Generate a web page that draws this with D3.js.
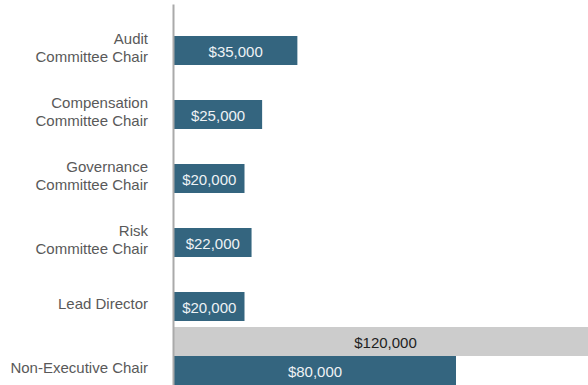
<!DOCTYPE html>
<html>
<head>
<meta charset="utf-8">
<script src="https://cdn.jsdelivr.net/npm/d3@7"></script>
<style>
  html, body { margin: 0; padding: 0; background: #fff; }
  svg { display: block; font-family: "Liberation Sans", Arial, sans-serif; }
</style>
</head>
<body>
<svg id="chart" width="588" height="385"></svg>
<script>
// Board role retainers
const roles = [
  ["Audit", "Committee Chair"],
  ["Compensation", "Committee Chair"],
  ["Governance", "Committee Chair"],
  ["Risk", "Committee Chair"],
  ["Lead Director"],
  ["Non-Executive Chair"]
];
const roleKeys = roles.map(r => r.join(" "));
const totalRetainer = [null, null, null, null, null, 120000]; // grey bars
const roleRetainer = [35000, 25000, 20000, 22000, 20000, 80000]; // blue bars
const seriesKeys = ["total", "role"];
const xDomain = [0, 120000];

const svg = d3.select("#chart");
const fmt = v => "$" + d3.format(",")(v);

const x = d3.scaleLinear().domain(xDomain).range([174, 597]);
const y = d3.scaleBand().domain(roleKeys).range([7, 385]).paddingInner(6 / 64).paddingOuter(0);
const ySub = d3.scaleBand().domain(seriesKeys).range([0, y.bandwidth()]);

const colors = { total: "#cccccc", role: "#34657f" };
const textColors = { total: "#222222", role: "#eef2f5" };

const rows = roleKeys.map((k, i) => ({
  key: k, lines: roles[i],
  values: [
    { series: "total", value: totalRetainer[i] },
    { series: "role", value: roleRetainer[i] }
  ].filter(d => d.value != null)
}));

const g = svg.append("g");
const rowG = g.selectAll("g.row").data(rows).join("g")
  .attr("class", "row")
  .attr("transform", d => `translate(0,${y(d.key)})`);

rowG.selectAll("rect").data(d => d.values).join("rect")
  .attr("x", x(0))
  .attr("y", d => ySub(d.series))
  .attr("width", d => x(d.value) - x(0))
  .attr("height", ySub.bandwidth())
  .attr("fill", d => colors[d.series]);

rowG.selectAll("text.val").data(d => d.values).join("text")
  .attr("class", "val")
  .attr("x", d => (x(0) + x(d.value)) / 2)
  .attr("y", d => ySub(d.series) + ySub.bandwidth() / 2 + 6.5)
  .attr("text-anchor", "middle")
  .attr("font-size", 15)
  .attr("fill", d => textColors[d.series])
  .text(d => fmt(d.value));

// Category labels, aligned to the blue bar of each row
const labels = rowG.append("text")
  .attr("text-anchor", "end")
  .attr("font-size", 15)
  .attr("fill", "#595959");
labels.each(function(d) {
  const cy = ySub("role") + ySub.bandwidth() / 2;
  const t = d3.select(this);
  if (d.lines.length === 1) {
    t.append("tspan").attr("x", 148).attr("y", cy + 2).text(d.lines[0]);
  } else {
    t.append("tspan").attr("x", 148).attr("y", cy - 6.5).text(d.lines[0]);
    t.append("tspan").attr("x", 148).attr("y", cy + 11.5).text(d.lines[1]);
  }
});

// Baseline axis
const axis = d3.axisLeft(d3.scaleLinear().range([4, 385])).tickValues([]).tickSizeOuter(0);
svg.append("g")
  .attr("transform", `translate(${x(0) - 1},0)`)
  .call(axis)
  .call(s => s.select(".domain").attr("stroke", "#aaaaaa").attr("stroke-width", 2));
</script>
</body>
</html>
